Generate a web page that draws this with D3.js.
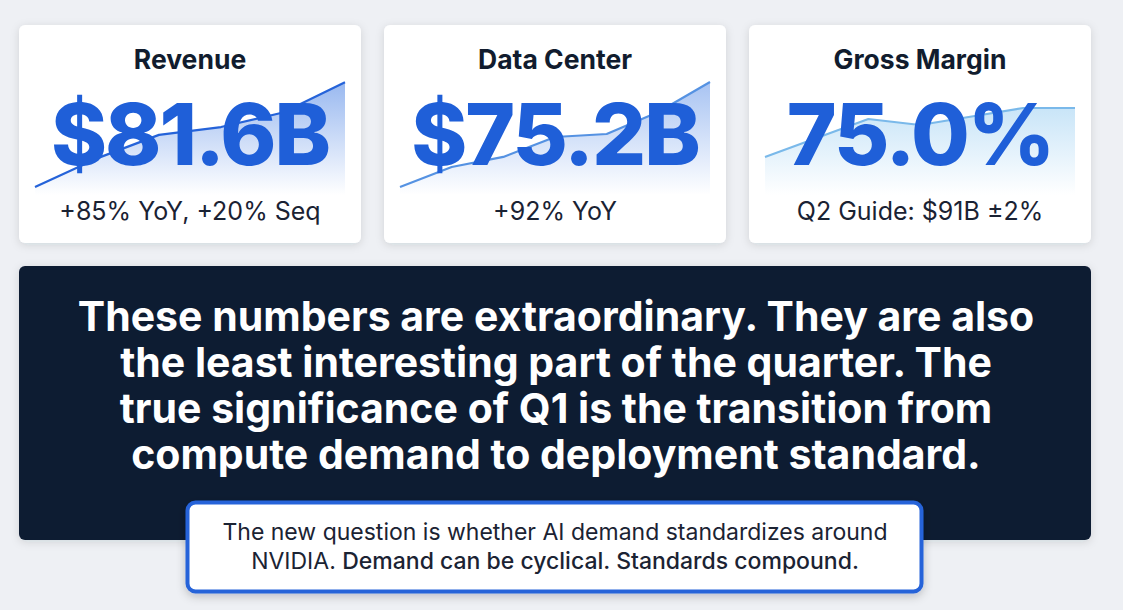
<!DOCTYPE html>
<html>
<head>
<meta charset="utf-8">
<script src="https://cdn.jsdelivr.net/npm/d3@7"></script>
<style>
  html, body { margin: 0; padding: 0; background: #eef0f4; }
  svg { display: block; }
</style>
</head>
<body>
<svg id="chart" width="1123" height="610"></svg>
<script>
// ---------- data ----------
const cardTitles = ["Revenue", "Data Center", "Gross Margin"];
const cardValues = ["$81.6B", "$75.2B", "75.0%"];
const cardNotes  = ["+85% YoY, +20% Seq", "+92% YoY", "Q2 Guide: $91B \u00b12%"];
const revenueTrend    = [4.5, 30, 51, 58, 71, 98];
const dataCenterTrend = [4.5, 22.3, 31.3, 49.1, 51.8, 71.4, 98.2];
const grossMarginTrend = [31.3, 48.2, 65.2, 59.8, 67.4, 75, 75];
const headlineLines = [
  "These numbers are extraordinary. They are also",
  "the least interesting part of the quarter. The",
  "true significance of Q1 is the transition from",
  "compute demand to deployment standard."
];
const calloutLine1 = "The new question is whether AI demand standardizes around";
const calloutLine2a = "NVIDIA. ";
const calloutLine2b = "Demand can be cyclical. Standards compound.";

// ---------- drawing ----------
const svg = d3.select("#chart");
const defs = svg.append("defs");

const shadow = defs.append("filter").attr("id", "shadow")
  .attr("x", "-10%").attr("y", "-10%").attr("width", "120%").attr("height", "130%");
shadow.append("feDropShadow").attr("dx", 0).attr("dy", 2).attr("stdDeviation", 4)
  .attr("flood-color", "#1e293b").attr("flood-opacity", 0.13);

const shadow2 = defs.append("filter").attr("id", "shadow2")
  .attr("x", "-10%").attr("y", "-20%").attr("width", "120%").attr("height", "150%");
shadow2.append("feDropShadow").attr("dx", 0).attr("dy", 3).attr("stdDeviation", 5)
  .attr("flood-color", "#0f172a").attr("flood-opacity", 0.22);

const gradSpecs = [
  { id: "g0", color: "#2f6fe0", top: 0.5 },
  { id: "g1", color: "#3a78e2", top: 0.45 },
  { id: "g2", color: "#7cc0ee", top: 0.55 }
];
gradSpecs.forEach(g => {
  const lg = defs.append("linearGradient").attr("id", g.id)
    .attr("gradientUnits", "userSpaceOnUse")
    .attr("x1", 0).attr("x2", 0).attr("y1", 55).attr("y2", 170);
  lg.append("stop").attr("offset", 0).attr("stop-color", g.color).attr("stop-opacity", g.top);
  lg.append("stop").attr("offset", 1).attr("stop-color", g.color).attr("stop-opacity", 0);
});

const lineColors = ["#2563d9", "#5592e2", "#7ab9ea"];
const trends = [revenueTrend, dataCenterTrend, grossMarginTrend];

const cardW = 342, cardH = 218, cardY = 25;
const cardX = d3.scalePoint().domain(d3.range(3)).range([19, 749]);
const y = d3.scaleLinear().domain([0, 100]).range([167, 55]);

const font = "Inter, 'Noto Sans', sans-serif";

cardTitles.forEach((t, i) => {
  const g = svg.append("g").attr("transform", `translate(${cardX(i)},${cardY})`);
  g.append("rect").attr("width", cardW).attr("height", cardH).attr("rx", 6)
    .attr("fill", "#ffffff").attr("filter", "url(#shadow)");

  const data = trends[i];
  const x = d3.scaleLinear().domain([0, data.length - 1]).range([16, 326]);
  const area = d3.area().x((d, k) => x(k)).y0(170).y1(d => y(d));
  const line = d3.line().x((d, k) => x(k)).y(d => y(d));
  g.append("path").datum(data).attr("d", area).attr("fill", `url(#g${i})`);
  g.append("path").datum(data).attr("d", line).attr("fill", "none")
    .attr("stroke", lineColors[i]).attr("stroke-width", 2.2).attr("stroke-linejoin", "round");

  g.append("text").attr("x", cardW / 2).attr("y", 44).attr("text-anchor", "middle")
    .attr("font-family", font).attr("font-weight", 700).attr("font-size", 26.5)
    .attr("fill", "#111c2e").text(t);
  g.append("text").attr("x", cardW / 2).attr("y", 140).attr("text-anchor", "middle")
    .attr("font-family", font).attr("font-weight", 800).attr("font-size", 85)
    .attr("letter-spacing", -2)
    .attr("fill", "#1f5fd8").text(cardValues[i]);
  g.append("text").attr("x", cardW / 2).attr("y", 195).attr("text-anchor", "middle")
    .attr("font-family", font).attr("font-weight", 400).attr("font-size", 25)
    .attr("fill", "#1a2233").text(cardNotes[i]);
});

// dark panel
svg.append("rect").attr("x", 19).attr("y", 266).attr("width", 1072).attr("height", 274)
  .attr("rx", 6).attr("fill", "#0e1b33").attr("filter", "url(#shadow)");

const hl = svg.append("text").attr("text-anchor", "middle")
  .attr("font-family", font).attr("font-weight", 700).attr("font-size", 41)
  .attr("fill", "#ffffff");
headlineLines.forEach((l, k) => {
  hl.append("tspan").attr("x", 556).attr("y", 331 + k * 46).text(l);
});

// callout
svg.append("rect").attr("x", 187.5).attr("y", 502.5).attr("width", 734).attr("height", 89)
  .attr("rx", 8).attr("fill", "#ffffff").attr("stroke", "#2563d9").attr("stroke-width", 4)
  .attr("filter", "url(#shadow2)");
const ct = svg.append("text").attr("text-anchor", "middle")
  .attr("font-family", font).attr("font-size", 23).attr("fill", "#1b2333");
ct.append("tspan").attr("x", 555).attr("y", 540).text(calloutLine1);
ct.append("tspan").attr("x", 555).attr("y", 569).text(calloutLine2a);
ct.append("tspan").attr("font-weight", 500).text(calloutLine2b);
</script>
</body>
</html>
